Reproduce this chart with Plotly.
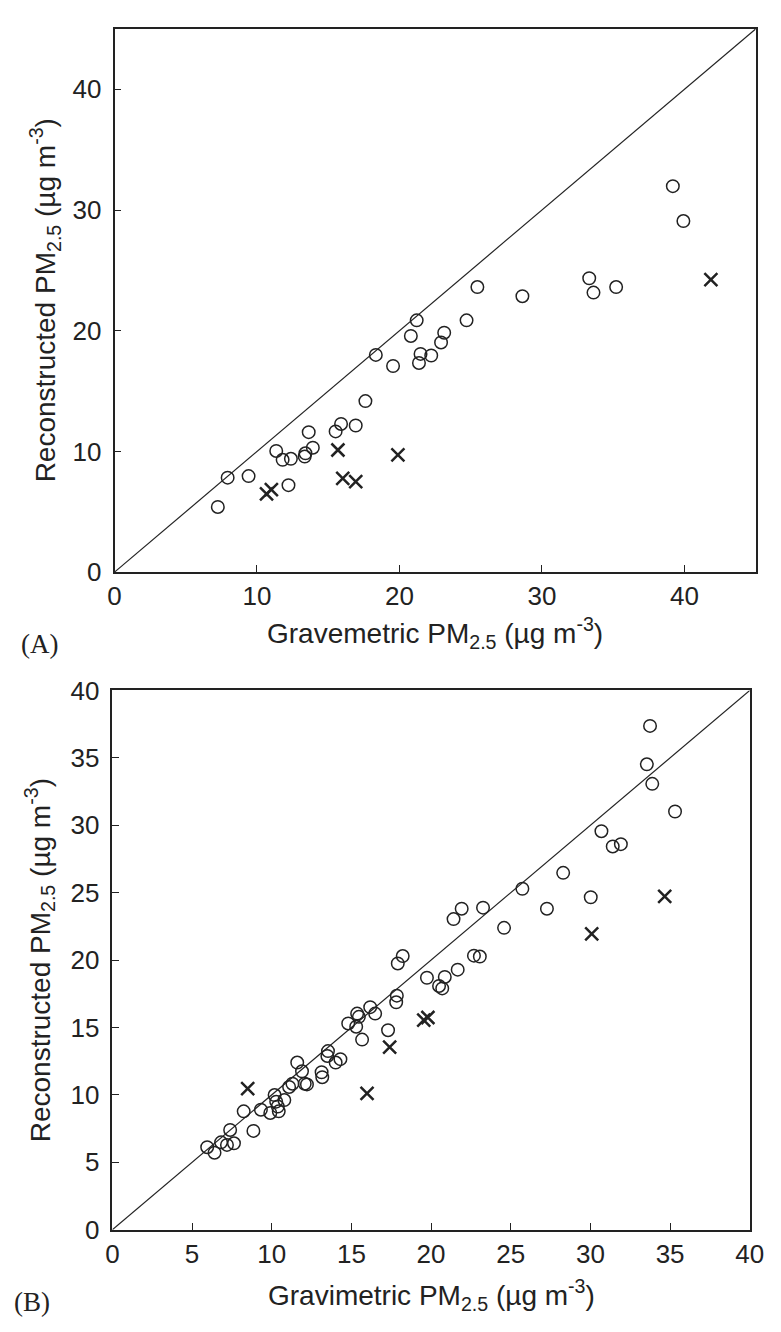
import plotly.graph_objects as go

# ---------------- Panel A data ----------------
a_circ_x = [7.25, 7.94, 9.41, 11.35, 11.80, 12.38, 12.21, 13.35, 13.40, 13.63, 13.92,
            15.52, 15.90, 16.93, 17.61, 18.34, 19.55, 20.80, 21.21, 21.37, 21.48, 22.23,
            22.92, 23.14, 24.71, 25.47, 28.63, 33.32, 33.62, 35.21, 39.19, 39.93]
a_circ_y = [5.40, 7.83, 7.96, 10.04, 9.31, 9.39, 7.21, 9.58, 9.85, 11.60, 10.31,
            11.66, 12.28, 12.15, 14.17, 18.00, 17.08, 19.57, 20.86, 17.33, 18.08, 17.95,
            19.03, 19.84, 20.86, 23.62, 22.86, 24.35, 23.16, 23.62, 31.98, 29.09]
a_x_x = [10.67, 11.01, 15.68, 16.02, 16.93, 19.89, 41.86]
a_x_y = [6.48, 6.83, 10.12, 7.77, 7.50, 9.72, 24.24]

# ---------------- Panel B data ----------------
b_circ_x = [5.95, 6.41, 6.82, 7.19, 7.63, 7.39, 8.24, 8.85, 9.32, 9.91, 10.18, 10.28,
            10.38, 10.44, 10.79, 11.09, 11.30, 11.60, 11.90, 12.07, 12.21, 13.13, 13.17,
            13.53, 13.49, 14.01, 14.31, 14.80, 15.30, 15.36, 15.47, 15.67, 16.18, 16.49,
            17.30, 17.81, 17.85, 17.91, 18.22, 19.74, 20.50, 20.70, 20.86, 21.67, 21.41,
            21.92, 22.69, 23.06, 23.26, 24.58, 25.73, 27.27, 28.29, 30.02, 30.69, 31.40,
            31.91, 33.54, 33.74, 33.88, 35.31]
b_circ_y = [6.12, 5.71, 6.48, 6.29, 6.41, 7.40, 8.78, 7.33, 8.90, 8.66, 9.99, 9.50,
            9.14, 8.78, 9.62, 10.59, 10.83, 12.40, 11.75, 10.83, 10.78, 11.68, 11.31,
            13.25, 12.89, 12.40, 12.65, 15.30, 15.06, 16.03, 15.79, 14.10, 16.51, 16.03,
            14.80, 16.87, 17.36, 19.75, 20.30, 18.69, 18.08, 17.90, 18.75, 19.29, 23.04,
            23.81, 20.33, 20.26, 23.89, 22.39, 25.29, 23.81, 26.47, 24.66, 29.56, 28.43,
            28.60, 34.52, 37.37, 33.07, 31.02]
b_x_x = [8.49, 15.98, 17.40, 19.54, 19.80, 30.08, 34.66]
b_x_y = [10.47, 10.11, 13.54, 15.55, 15.74, 21.95, 24.73]

a_range = [0, 45]
b_range = [0, 40]
a_ticks = [0, 10, 20, 30, 40]
b_ticks = [0, 5, 10, 15, 20, 25, 30, 35, 40]

INK = "#222222"
W, H = 781, 1332

fig = go.Figure()

circ_marker = dict(symbol="circle-open", size=12.5, color=INK, line=dict(width=1.5, color=INK))
x_marker = dict(symbol="x-thin", size=13, color=INK, line=dict(width=2.5, color=INK))

# Panel A
fig.add_trace(go.Scatter(x=a_range, y=a_range, mode="lines", line=dict(color=INK, width=1.2),
                         xaxis="x", yaxis="y", showlegend=False, hoverinfo="skip"))
fig.add_trace(go.Scatter(x=a_circ_x, y=a_circ_y, mode="markers", marker=circ_marker,
                         xaxis="x", yaxis="y", showlegend=False))
fig.add_trace(go.Scatter(x=a_x_x, y=a_x_y, mode="markers", marker=x_marker,
                         xaxis="x", yaxis="y", showlegend=False))
# Panel B
fig.add_trace(go.Scatter(x=b_range, y=b_range, mode="lines", line=dict(color=INK, width=1.2),
                         xaxis="x2", yaxis="y2", showlegend=False, hoverinfo="skip"))
fig.add_trace(go.Scatter(x=b_circ_x, y=b_circ_y, mode="markers", marker=circ_marker,
                         xaxis="x2", yaxis="y2", showlegend=False))
fig.add_trace(go.Scatter(x=b_x_x, y=b_x_y, mode="markers", marker=x_marker,
                         xaxis="x2", yaxis="y2", showlegend=False))

tickfont = dict(family="Liberation Sans, Arial, sans-serif", size=26, color=INK)
common = dict(showline=True, mirror=True, linecolor=INK, linewidth=1.6, ticks="inside",
              ticklen=7, tickwidth=1.3, tickcolor=INK, showgrid=False, zeroline=False,
              tickfont=tickfont, fixedrange=True)

def px_x(p):
    return p / W

def px_y(p):
    return 1 - p / H

fig.update_layout(
    width=W, height=H,
    margin=dict(l=0, r=0, t=0, b=0),
    paper_bgcolor="white", plot_bgcolor="white",
    xaxis=dict(domain=[px_x(110.5), px_x(769.3)], range=a_range, tickvals=a_ticks,
               anchor="y", ticklabelstandoff=0, **common),
    yaxis=dict(domain=[px_y(570), px_y(14.3)], range=a_range, tickvals=a_ticks,
               anchor="x", ticklabelstandoff=6, **common),
    xaxis2=dict(domain=[px_x(108.3), px_x(763.3)], range=b_range, tickvals=b_ticks,
                anchor="y2", ticklabelstandoff=0, **common),
    yaxis2=dict(domain=[px_y(1242.7), px_y(691)], range=b_range, tickvals=b_ticks,
                anchor="x2", ticklabelstandoff=6, **common),
)

titlefont = dict(family="Liberation Sans, Arial, sans-serif", size=28, color=INK)
labelfont = dict(family="Liberation Serif, Times New Roman, serif", size=27, color=INK)

ann = [
    dict(text="Gravemetric PM<sub>2.5</sub> (µg m<sup>-3</sup>)", x=px_x(440), y=px_y(632),
         font=titlefont),
    dict(text="Reconstructed PM<sub>2.5</sub> (µg m<sup>-3</sup>)", x=px_x(40), y=px_y(292),
         font=titlefont, textangle=-90),
    dict(text="Gravimetric PM<sub>2.5</sub> (µg m<sup>-3</sup>)", x=px_x(436), y=px_y(1310),
         font=titlefont),
    dict(text="Reconstructed PM<sub>2.5</sub> (µg m<sup>-3</sup>)", x=px_x(34), y=px_y(967),
         font=titlefont, textangle=-90),
    dict(text="(A)", x=px_x(33), y=px_y(643), font=labelfont),
    dict(text="(B)", x=px_x(26), y=px_y(1317), font=labelfont),
]
for a in ann:
    a.update(xref="paper", yref="paper", xanchor="center", yanchor="middle", showarrow=False)
fig.update_layout(annotations=ann)

fig.write_html("out.html", config={"displayModeBar": False},
               post_script="document.body.style.margin='0';")
